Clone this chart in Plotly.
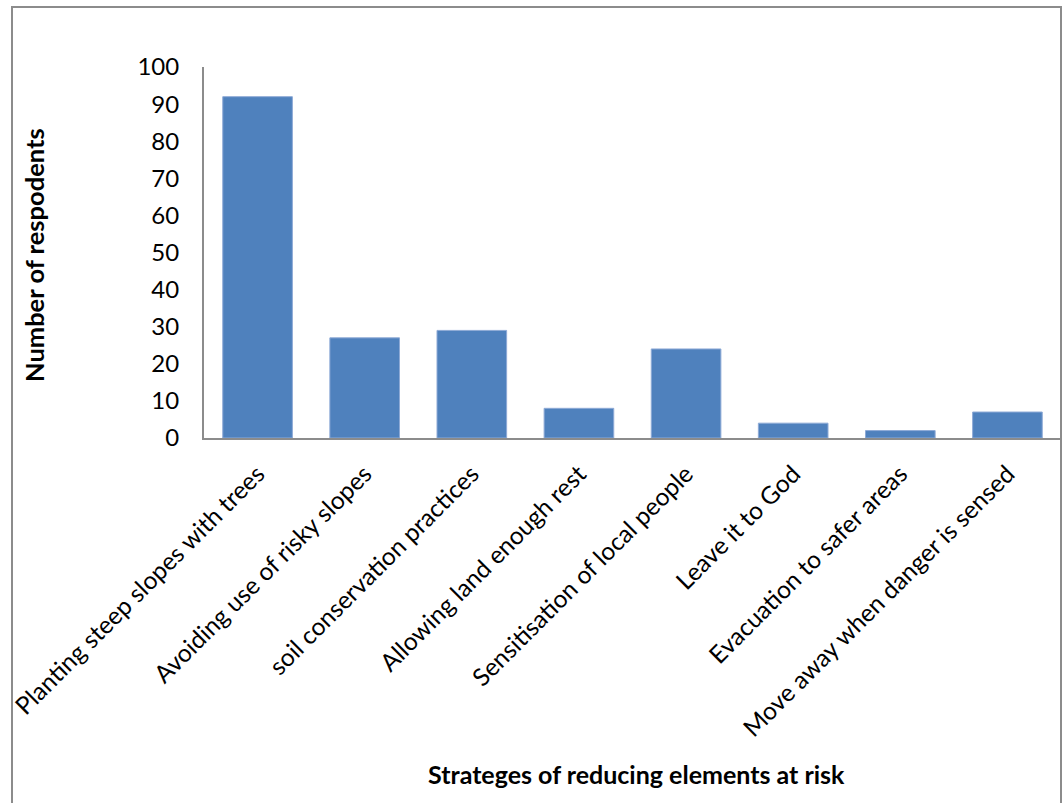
import plotly.graph_objects as go

categories = [
    "Planting steep slopes with trees",
    "Avoiding use of risky slopes",
    "soil conservation practices",
    "Allowing land enough rest",
    "Sensitisation of local people",
    "Leave it to God",
    "Evacuation to safer areas",
    "Move away when danger is sensed",
]
respondents = [92, 27, 29, 8, 24, 4, 2, 7]
y_ticks = [0, 10, 20, 30, 40, 50, 60, 70, 80, 90, 100]

W, H = 1063, 803
L, R, T, B = 204, 2, 67, 365
pw = W - L - R
ph = H - T - B

def px_x(x):
    return (x - L) / pw

def px_y(y):
    return (H - B - y) / ph

FONT = "Lato"

fig = go.Figure(go.Bar(
    x=categories, y=respondents,
    marker=dict(color="#4F81BD", line=dict(color="#8EAAD6", width=1)),
    width=0.65,
))

fig.update_layout(
    width=W, height=H,
    margin=dict(l=L, r=R, t=T, b=B, autoexpand=False),
    paper_bgcolor="white", plot_bgcolor="white",
    font=dict(family=FONT, color="black", size=22),
    showlegend=False,
    bargap=0.35,
    xaxis=dict(
        showline=True, linecolor="#8C8C8C", linewidth=2,
        showgrid=False, tickangle=-45,
        ticks="outside", ticklen=10, tickcolor="rgba(0,0,0,0)",
        tickfont=dict(family=FONT, size=24.5),
    ),
    yaxis=dict(
        range=[0, 100], tickvals=y_ticks,
        showline=True, linecolor="#8C8C8C", linewidth=2,
        showgrid=False, zeroline=False,
        ticks="outside", ticklen=18, tickcolor="rgba(0,0,0,0)",
        tickfont=dict(family=FONT, size=24),
    ),
    shapes=[dict(
        type="rect", xref="paper", yref="paper",
        x0=px_x(12), x1=px_x(1061), y0=px_y(806), y1=px_y(7),
        line=dict(color="#8C8C8C", width=2), fillcolor="rgba(0,0,0,0)",
    )],
    annotations=[
        dict(text="<b>Number of respodents</b>", xref="paper", yref="paper",
             x=px_x(34), y=px_y(255), textangle=-90, showarrow=False,
             font=dict(family=FONT, size=25.5), xanchor="center", yanchor="middle"),
        dict(text="<b>Strateges of reducing elements at risk</b>", xref="paper", yref="paper",
             x=px_x(636), y=px_y(774), showarrow=False,
             font=dict(family=FONT, size=25), xanchor="center", yanchor="middle"),
    ],
)

fig.write_html("out.html")
